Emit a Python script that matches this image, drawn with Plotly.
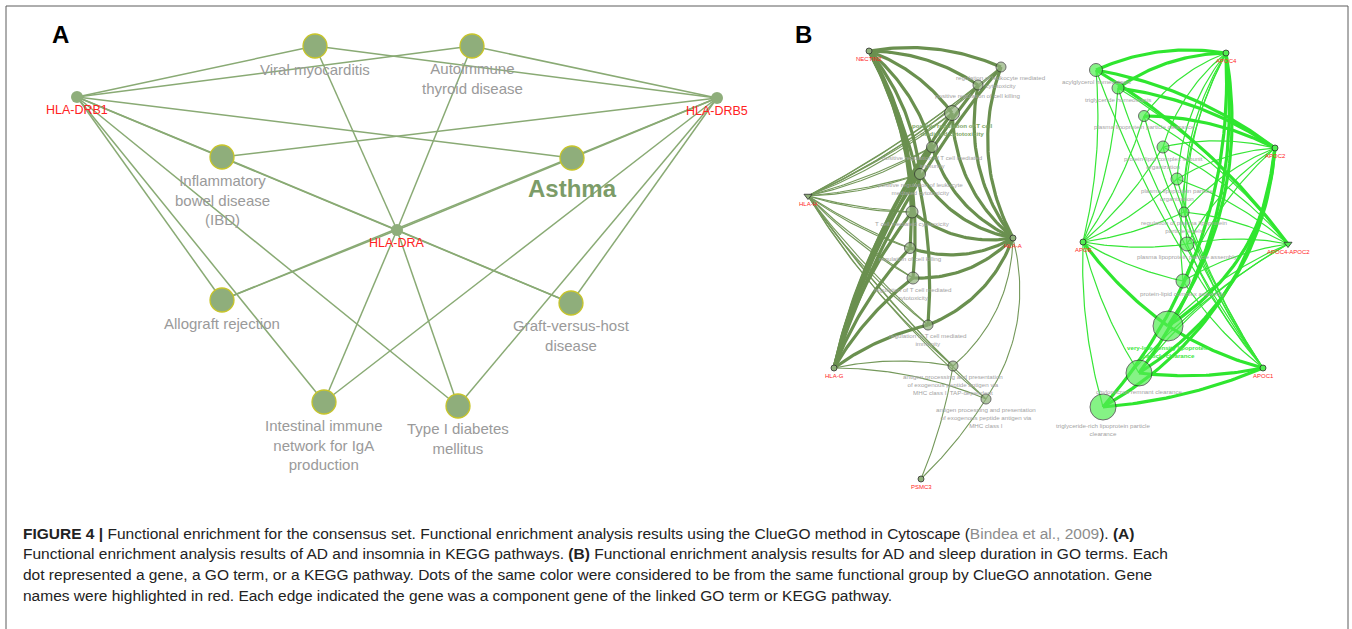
import numpy as np
import plotly.graph_objects as go

# ---------------- DATA ----------------
# Panel A: KEGG pathways (AD & insomnia)
A_GENES = ["HLA-DRB1", "HLA-DRA", "HLA-DRB5"]
A_PATHWAYS = ["Viral myocarditis", "Autoimmune\nthyroid disease", "Inflammatory\nbowel disease\n(IBD)",
              "Asthma", "Allograft rejection", "Graft-versus-host\ndisease",
              "Intestinal immune\nnetwork for IgA\nproduction", "Type I diabetes\nmellitus"]
A_EDGES = [("HLA-DRB1", p) for p in A_PATHWAYS] + [("HLA-DRA", p) for p in A_PATHWAYS] + \
          [("HLA-DRB5", p) for p in A_PATHWAYS]
A_HIGHLIGHT = "Asthma"

# Panel B (left group): GO terms
BL_GENES = ["NECTIN2", "HLA-H", "HLA-A", "HLA-G", "PSMC3"]
BL_TERMS = ["regulation of leukocyte mediated\ncytotoxicity",
            "positive regulation of cell killing",
            "positive regulation of T cell\nmediated cytotoxicity",
            "positive regulation of T cell mediated\nimmunity",
            "positive regulation of leukocyte\nmediated cytotoxicity",
            "T cell mediated cytotoxicity",
            "regulation of cell killing",
            "regulation of T cell mediated\ncytotoxicity",
            "regulation of T cell mediated\nimmunity",
            "antigen processing and presentation\nof exogenous peptide antigen via\nMHC class I, TAP-dependent",
            "antigen processing and presentation\nof exogenous peptide antigen via\nMHC class I"]
BL_HIGHLIGHT = "positive regulation of T cell\nmediated cytotoxicity"
BL_TERM_SIZE = [10, 10, 15, 11, 11, 12, 11, 12, 10, 10, 10]
BL_EDGES = ([("NECTIN2", t, 3) for t in BL_TERMS[:9]] +
            [("HLA-A", t, 3) for t in BL_TERMS[:9]] + [("HLA-A", t, 1) for t in BL_TERMS[9:]] +
            [("HLA-G", t, 3) for t in BL_TERMS[:9]] + [("HLA-G", t, 1) for t in BL_TERMS[9:]] +
            [("HLA-H", t, 1) for t in BL_TERMS] +
            [("PSMC3", t, 1) for t in BL_TERMS[9:]])

# Panel B (right group): GO terms
BR_GENES = ["APOC4", "APOC2", "APOE", "APOC4-APOC2", "APOC1"]
BR_TERMS = ["acylglycerol homeostasis",
            "triglyceride homeostasis",
            "plasma lipoprotein particle clearance",
            "protein-lipid complex subunit\norganization",
            "plasma lipoprotein particle\norganization",
            "regulation of plasma lipoprotein\nparticle levels",
            "plasma lipoprotein particle assembly",
            "protein-lipid complex assembly",
            "very-low-density lipoprotein\nparticle clearance",
            "chylomicron remnant clearance",
            "triglyceride-rich lipoprotein particle\nclearance"]
BR_HIGHLIGHT = "very-low-density lipoprotein\nparticle clearance"
BR_TERM_SIZE = [13, 12, 11, 12, 12, 10, 14, 14, 30, 26, 26]
BR_EDGES = ([("APOE", t, 1) for t in BR_TERMS[:8]] + [("APOE", BR_TERMS[8], 3)] +
            [("APOE", t, 1) for t in BR_TERMS[9:]] +
            [("APOC4", t, 3) for t in BR_TERMS[:2]] + [("APOC4", t, 1) for t in BR_TERMS[2:8]] +
            [("APOC4", t, 3) for t in BR_TERMS[8:]] +
            [("APOC2", t, 3) for t in BR_TERMS[:3]] + [("APOC2", t, 1) for t in BR_TERMS[3:8]] +
            [("APOC2", t, 3) for t in BR_TERMS[8:]] +
            [("APOC4-APOC2", BR_TERMS[0], 3)] + [("APOC4-APOC2", t, 1) for t in BR_TERMS[1:]] +
            [("APOC1", t, 1) for t in BR_TERMS[:8]] + [("APOC1", t, 3) for t in BR_TERMS[8:]])

CAPTION = [
    "<b>FIGURE 4 |</b> Functional enrichment for the consensus set. Functional enrichment analysis results using the ClueGO method in Cytoscape (<span style='color:#8c8c8c'>Bindea et al., 2009</span>). <b>(A)</b>",
    "Functional enrichment analysis results of AD and insomnia in KEGG pathways. <b>(B)</b> Functional enrichment analysis results for AD and sleep duration in GO terms. Each",
    "dot represented a gene, a GO term, or a KEGG pathway. Dots of the same color were considered to be from the same functional group by ClueGO annotation. Gene",
    "names were highlighted in red. Each edge indicated the gene was a component gene of the linked GO term or KEGG pathway.",
]

# ---------------- LAYOUT (pixel positions of network nodes) ----------------
POS = {
    "HLA-DRB1": (77, 97), "HLA-DRA": (397, 230), "HLA-DRB5": (717, 98),
    A_PATHWAYS[0]: (315, 46), A_PATHWAYS[1]: (472, 46), A_PATHWAYS[2]: (222, 157),
    A_PATHWAYS[3]: (572, 158), A_PATHWAYS[4]: (222, 300), A_PATHWAYS[5]: (571, 303),
    A_PATHWAYS[6]: (324, 402), A_PATHWAYS[7]: (458, 406),
    "NECTIN2": (869, 51), "HLA-H": (808, 196), "HLA-A": (1013, 238), "HLA-G": (834, 368), "PSMC3": (921, 479),
    BL_TERMS[0]: (1001, 67), BL_TERMS[1]: (978, 85), BL_TERMS[2]: (952, 113), BL_TERMS[3]: (932, 147),
    BL_TERMS[4]: (920, 174), BL_TERMS[5]: (912, 212), BL_TERMS[6]: (910, 248), BL_TERMS[7]: (913, 278),
    BL_TERMS[8]: (928, 325), BL_TERMS[9]: (953, 366), BL_TERMS[10]: (986, 399),
    "APOC4": (1226, 53), "APOC2": (1275, 148), "APOE": (1083, 242), "APOC4-APOC2": (1288, 244), "APOC1": (1263, 368),
    BR_TERMS[0]: (1096, 70), BR_TERMS[1]: (1118, 88), BR_TERMS[2]: (1144, 116), BR_TERMS[3]: (1163, 147),
    BR_TERMS[4]: (1177, 179), BR_TERMS[5]: (1184, 212), BR_TERMS[6]: (1187, 244), BR_TERMS[7]: (1183, 281),
    BR_TERMS[8]: (1168, 326), BR_TERMS[9]: (1139, 373), BR_TERMS[10]: (1103, 407),
}
BEND = {"NECTIN2": -0.15, "HLA-A": -0.22, "HLA-G": -0.1, "HLA-H": 0.05, "PSMC3": 0.06,
        "APOE": 0.08, "APOC4": 0.15, "APOC2": 0.12, "APOC4-APOC2": 0.1, "APOC1": -0.08}
BEND_LOWER = {"APOC2": -0.25, "APOC4": -0.2}


def curve(p0, p2, bend, n=40):
    p0 = np.array(p0, float); p2 = np.array(p2, float)
    d = p2 - p0
    L = np.hypot(*d)
    nrm = np.array([-d[1], d[0]]) / L
    c = (p0 + p2) / 2 + bend * L * nrm
    t = np.linspace(0, 1, n)[:, None]
    pts = (1 - t) ** 2 * p0 + 2 * (1 - t) * t * c + t ** 2 * p2
    return list(pts[:, 0]) + [None], list(pts[:, 1]) + [None]


fig = go.Figure()


def add_lines(segs, color, width):
    xs, ys = [], []
    for sx, sy in segs:
        xs += sx; ys += sy
    fig.add_trace(go.Scatter(x=xs, y=ys, mode="lines", line=dict(color=color, width=width),
                             hoverinfo="skip", showlegend=False))


# Panel A edges (straight)
add_lines([curve(POS[g], POS[p], 0.0, 2) for g, p in A_EDGES], "#89aa74", 1.5)

# Panel B left edges
thin, thick = [], []
for g, t, w in BL_EDGES:
    b = BEND[g]
    if w == 3:
        thick.append(curve(POS[g], POS[t], b))
    else:
        thin.append(curve(POS[g], POS[t], b))
        if g == "HLA-H":
            thin.append(curve(POS[g], POS[t], b + 0.03))
add_lines(thin, "#74985a", 1.1)
add_lines(thick, "#6a904f", 3.2)

# Panel B right edges
thin, thick = [], []
for g, t, w in BR_EDGES:
    b = BEND[g]
    if BR_TERMS.index(t) >= 8 and g in BEND_LOWER:
        b = BEND_LOWER[g]
    (thick if w == 3 else thin).append(curve(POS[g], POS[t], b))
add_lines(thin, "#36e636", 1.2)
add_lines(thick, "#2fe62f", 3.2)


def nodes(names, size, fill, line_color, line_w, symbol="circle"):
    fig.add_trace(go.Scatter(
        x=[POS[n][0] for n in names], y=[POS[n][1] for n in names], mode="markers",
        marker=dict(size=size, color=fill, symbol=symbol, line=dict(color=line_color, width=line_w)),
        hoverinfo="skip", showlegend=False))


nodes(A_PATHWAYS, 24, "#8fae7b", "#c8c52a", 1.3)
nodes(A_GENES, 12, "#8fae7b", "#8fae7b", 0)
nodes(BL_TERMS, BL_TERM_SIZE, "#8fb07a", "#2f2f2f", 1)
nodes(["NECTIN2", "HLA-A", "HLA-G", "PSMC3"], 6, "#8fb07a", "#2f2f2f", 0.8)
nodes(["HLA-H"], 7, "#8fb07a", "#2f2f2f", 0.8, "triangle-down")
nodes(BR_TERMS, BR_TERM_SIZE, "#52ee52", "#2f2f2f", 1)
nodes(["APOC4", "APOC2", "APOE", "APOC1"], 6, "#52ee52", "#2f2f2f", 0.8)
nodes(["APOC4-APOC2"], 7, "#52ee52", "#2f2f2f", 0.8, "triangle-down")

ann = []
FONT = "Liberation Sans, Arial, sans-serif"


def label(text, x, y_first, size, color, bold=False):
    lines = text.split("\n")
    lh = 1.3 * size
    yc = y_first + (len(lines) - 1) * lh / 2
    if bold:
        t = "<br>".join("<b>" + l + "</b>" for l in lines)
    else:
        t = "<br>".join(lines)
    ann.append(dict(x=x, y=yc, text=t, showarrow=False, xanchor="center", yanchor="middle",
                    font=dict(family=FONT, size=size, color=color), xref="x", yref="y", borderpad=0))


# Panel A labels
for p in A_PATHWAYS:
    x, y = POS[p]
    if p == A_HIGHLIGHT:
        label(p, x, y + 30, 24, "#7c9c68", bold=True)
    else:
        label(p, x, y + 23, 15, "#9a9a9a")
for g in A_GENES:
    x, y = POS[g]
    label(g, x, y + 13, 12.5, "#ff2222")

# Panel B labels
for t, s in zip(BL_TERMS, BL_TERM_SIZE):
    x, y = POS[t]
    if t == BL_HIGHLIGHT:
        label(t, x, y + s / 2 + 5, 6.2, "#7da566", bold=True)
    else:
        label(t, x, y + s / 2 + 5, 6.2, "#a3a3a3")
for t, s in zip(BR_TERMS, BR_TERM_SIZE):
    x, y = POS[t]
    if t == BR_HIGHLIGHT:
        label(t, x, y + s / 2 + 6, 6.2, "#3ee83e", bold=True)
    else:
        label(t, x, y + s / 2 + 5, 6.2, "#a3a3a3")
for g in BL_GENES + BR_GENES:
    x, y = POS[g]
    label(g, x, y + 8, 6, "#ff2222")

# Panel letters
label("A", 60, 34, 24, "#000000", bold=True)
label("B", 803, 34, 24, "#000000", bold=True)

# Caption
for i, line in enumerate(CAPTION):
    ann.append(dict(x=22, y=533 + i * 20.7, text=line, showarrow=False, xanchor="left", yanchor="middle",
                    font=dict(family=FONT, size=15.5, color="#222222"), xref="x", yref="y", borderpad=0))

fig.update_layout(
    width=1352, height=629, margin=dict(l=0, r=0, t=0, b=0),
    paper_bgcolor="white", plot_bgcolor="white",
    xaxis=dict(range=[0, 1352], visible=False, fixedrange=True),
    yaxis=dict(range=[629, 0], visible=False, fixedrange=True),
    annotations=ann,
    shapes=[dict(type="rect", xref="x", yref="y", x0=6, y0=6, x1=1348, y1=660,
                 line=dict(color="#5c5c5c", width=1), fillcolor="rgba(0,0,0,0)", layer="below")],
)

fig.write_html("out.html", config={"displayModeBar": False},
               post_script="document.body.style.margin='0';document.body.style.overflow='hidden';")
